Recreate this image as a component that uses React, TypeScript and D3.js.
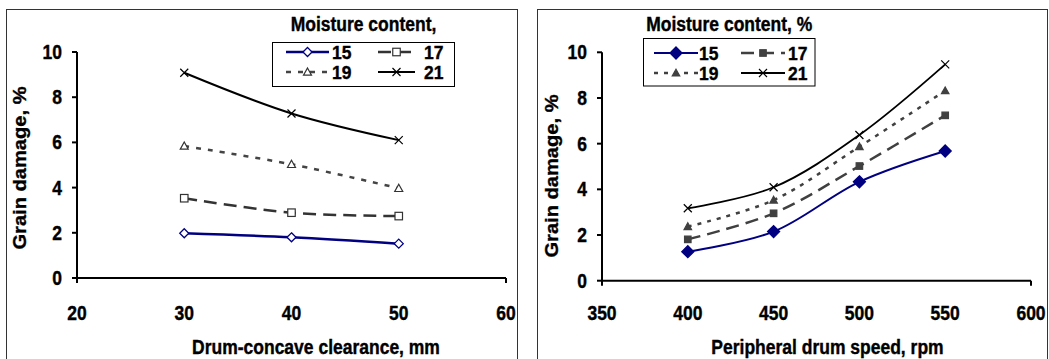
import React from "react";
import * as d3 from "d3";

const clearance = [30, 40, 50];
const speed = [400, 450, 500, 550];
const moistureLevels = ["15", "17", "19", "21"];

const dmgClear15 = [1.98, 1.8, 1.52];
const dmgClear17 = [3.53, 2.89, 2.74];
const dmgClear19 = [5.84, 5.03, 3.97];
const dmgClear21 = [9.08, 7.28, 6.1];

const dmgSpeed15 = [1.27, 2.15, 4.33, 5.68];
const dmgSpeed17 = [1.81, 2.95, 5.02, 7.24];
const dmgSpeed19 = [2.37, 3.53, 5.87, 8.32];
const dmgSpeed21 = [3.17, 4.09, 6.38, 9.47];

const yTicks = [0, 2, 4, 6, 8, 10];
const clearanceTicks = [20, 30, 40, 50, 60];
const speedTicks = [350, 400, 450, 500, 550, 600];

const FONT = "'Liberation Sans', Arial, sans-serif";

type Style = {
  color: string;
  width: number;
  dash?: string;
  marker: "diamond" | "square" | "triangle" | "x";
  filled: boolean;
  size: number;
  mcolor: string;
};

function T(props: { x: number; y: number; anchor?: string; rotate?: boolean; vs?: number; children: any }) {
  const { x, y, anchor = "middle", rotate = false, vs = 1.15, children } = props;
  return (
    <text
      transform={`translate(${x},${y}) scale(1,${vs})${rotate ? " rotate(-90)" : ""}`}
      textAnchor={anchor}
      fontFamily={FONT}
      fontWeight="bold"
      fontSize={17.5}
      fill="#000"
      stroke="#000"
      strokeWidth={0.35}
    >
      {children}
    </text>
  );
}

function Marker({ x, y, s }: { x: number; y: number; s: Style }) {
  const h = s.size / 2;
  const fill = s.filled ? s.mcolor : "#fff";
  if (s.marker === "diamond") {
    return (
      <path
        d={`M${x},${y - h}L${x + h},${y}L${x},${y + h}L${x - h},${y}Z`}
        fill={fill}
        stroke={s.mcolor}
        strokeWidth={1.3}
      />
    );
  }
  if (s.marker === "square") {
    return <rect x={x - h} y={y - h} width={s.size} height={s.size} fill={fill} stroke={s.mcolor} strokeWidth={1.2} />;
  }
  if (s.marker === "triangle") {
    return (
      <path
        d={`M${x},${y - h}L${x + h},${y + h * 0.8}L${x - h},${y + h * 0.8}Z`}
        fill={fill}
        stroke={s.mcolor}
        strokeWidth={1.2}
      />
    );
  }
  return (
    <path
      d={`M${x - h},${y - h}L${x + h},${y + h}M${x - h},${y + h}L${x + h},${y - h}`}
      stroke={s.mcolor}
      strokeWidth={1.2}
      fill="none"
    />
  );
}

type PanelProps = {
  frame: [number, number];
  xDomain: [number, number];
  xRange: [number, number];
  yRange: [number, number];
  xTicks: number[];
  xs: number[];
  series: number[][];
  styles: Style[];
  xTitle: string;
  xTitleX: number;
  yTitleX: number;
  yTitleY: number;
  legendTitle: string;
  legendBox: [number, number, number, number];
  legendItems: { x1: number; x2: number; lx: number }[];
  legendRows: number[];
};

function Panel(p: PanelProps) {
  const x = d3.scaleLinear().domain(p.xDomain).range(p.xRange);
  const y = d3.scaleLinear().domain([0, 10]).range(p.yRange);
  const line = d3
    .line<[number, number]>()
    .x((d) => x(d[0]))
    .y((d) => y(d[1]))
    .curve(d3.curveCatmullRom.alpha(0.5));
  const [lx, ly, lw, lh] = p.legendBox;
  const x0 = p.xRange[0];
  const x1 = p.xRange[1];
  const y0 = p.yRange[0];
  return (
    <g>
      <rect x={p.frame[0] + 0.5} y={9.5} width={p.frame[1] - p.frame[0]} height={360} fill="#fff" stroke="#333" strokeWidth={1} />
      <line x1={x0} x2={x0} y1={y(10)} y2={y0 + 5} stroke="#000" strokeWidth={2} />
      <line x1={x0} x2={x1} y1={y0} y2={y0} stroke="#000" strokeWidth={2} />
      <line x1={x1} x2={x1} y1={y0} y2={y0 + 5} stroke="#000" strokeWidth={2} />
      {yTicks.map((t) => (
        <g key={t}>
          <line x1={x0 - 5} x2={x0} y1={y(t)} y2={y(t)} stroke="#000" strokeWidth={2} />
          <T x={x0 - 15} y={y(t) + 7} anchor="end">
            {t}
          </T>
        </g>
      ))}
      {p.xTicks.map((t) => (
        <T key={t} x={x(t)} y={319.5}>
          {t}
        </T>
      ))}
      <T x={p.xTitleX} y={353.5}>
        {p.xTitle}
      </T>
      <T x={p.yTitleX} y={p.yTitleY} rotate>
        Grain damage, %
      </T>
      {p.series.map((vals, i) => {
        const s = p.styles[i];
        const pts = p.xs.map((xv, j) => [xv, vals[j]] as [number, number]);
        return (
          <g key={i}>
            <path d={line(pts) || ""} fill="none" stroke={s.color} strokeWidth={s.width} strokeDasharray={s.dash} />
            {pts.map((d, j) => (
              <Marker key={j} x={x(d[0])} y={y(d[1])} s={s} />
            ))}
          </g>
        );
      })}
      <T x={lx + lw / 2} y={30.5}>
        {p.legendTitle}
      </T>
      <rect x={lx} y={ly} width={lw} height={lh} fill="#fff" stroke="#000" strokeWidth={1} />
      {moistureLevels.map((m, i) => {
        const s = p.styles[i];
        const it = p.legendItems[i % 2];
        const ry = p.legendRows[Math.floor(i / 2)];
        return (
          <g key={m}>
            <line x1={it.x1} x2={it.x2} y1={ry} y2={ry} stroke={s.color} strokeWidth={s.width} strokeDasharray={s.dash} />
            <Marker x={(it.x1 + it.x2) / 2} y={ry} s={s} />
            <T x={it.lx} y={ry + 7} anchor="start" vs={1.05}>
              {m}
            </T>
          </g>
        );
      })}
    </g>
  );
}

const leftStyles: Style[] = [
  { color: "#000080", width: 2.5, marker: "diamond", filled: false, size: 9, mcolor: "#000080" },
  { color: "#333", width: 2.5, dash: "13 7", marker: "square", filled: false, size: 7.5, mcolor: "#333" },
  { color: "#444", width: 2.5, dash: "5 7", marker: "triangle", filled: false, size: 8, mcolor: "#333" },
  { color: "#000", width: 2, marker: "x", filled: false, size: 8, mcolor: "#000" },
];

const rightStyles: Style[] = [
  { color: "#000080", width: 2, marker: "diamond", filled: true, size: 12, mcolor: "#000080" },
  { color: "#404040", width: 2.5, dash: "13 7", marker: "square", filled: true, size: 6.5, mcolor: "#404040" },
  { color: "#404040", width: 2.5, dash: "4 6", marker: "triangle", filled: true, size: 7.5, mcolor: "#404040" },
  { color: "#000", width: 1.8, marker: "x", filled: false, size: 8, mcolor: "#000" },
];

export default function App() {
  return (
    <svg width={1049} height={359} style={{ position: "absolute", left: 0, top: 0, background: "#fff" }}>
      <rect x={0} y={0} width={1049} height={359} fill="#fff" />
      <Panel
        frame={[6, 517]}
        xDomain={[20, 60]}
        xRange={[77, 506]}
        yRange={[278, 52]}
        xTicks={clearanceTicks}
        xs={clearance}
        series={[dmgClear15, dmgClear17, dmgClear19, dmgClear21]}
        styles={leftStyles}
        xTitle="Drum-concave clearance, mm"
        xTitleX={316}
        yTitleX={26}
        yTitleY={168}
        legendTitle="Moisture content,"
        legendBox={[272.5, 42.5, 182, 44]}
        legendItems={[
          { x1: 286, x2: 329, lx: 332 },
          { x1: 378, x2: 415, lx: 424 },
        ]}
        legendRows={[52, 72]}
      />
      <Panel
        frame={[537, 1047]}
        xDomain={[350, 600]}
        xRange={[602, 1031]}
        yRange={[280.7, 52.3]}
        xTicks={speedTicks}
        xs={speed}
        series={[dmgSpeed15, dmgSpeed17, dmgSpeed19, dmgSpeed21]}
        styles={rightStyles}
        xTitle="Peripheral drum speed, rpm"
        xTitleX={827.5}
        yTitleX={558}
        yTitleY={176}
        legendTitle="Moisture content, %"
        legendBox={[643.5, 38.5, 171.5, 47.5]}
        legendItems={[
          { x1: 654, x2: 698, lx: 699 },
          { x1: 741, x2: 785, lx: 788 },
        ]}
        legendRows={[53, 73]}
      />
    </svg>
  );
}
